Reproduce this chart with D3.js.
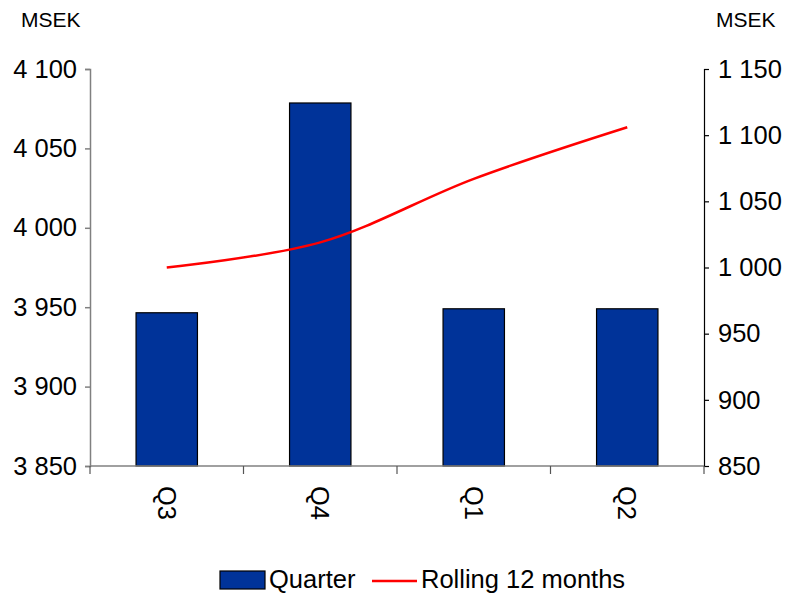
<!DOCTYPE html>
<html>
<head>
<meta charset="utf-8">
<script src="https://cdn.jsdelivr.net/npm/d3@7"></script>
<style>
  body { margin: 0; background: #fff; }
  svg text { font-family: "Liberation Sans", Arial, sans-serif; fill: #000; }
</style>
</head>
<body>
<div id="chart"></div>
<script>
// data
let quarters = ["Q3", "Q4", "Q1", "Q2"];
let quarterValues = [3946.5, 4078.6, 3949, 3949];
let rollingValues = [1000, 1019, 1067, 1106];
let leftTicks = [3850, 3900, 3950, 4000, 4050, 4100];
let rightTicks = [850, 900, 950, 1000, 1050, 1100, 1150];
let legendLabels = ["Quarter", "Rolling 12 months"];

let width = 791,
  height = 595,
  plotLeft = 90,
  plotRight = 704,
  plotTop = 69,
  plotBottom = 466;

let fmt = (d) => d3.format(",")(d).replace(/,/g, " ");

let svg = d3
  .select("#chart")
  .append("svg")
  .attr("width", width)
  .attr("height", height);

let xScale = d3
  .scaleBand()
  .domain(quarters)
  .range([plotLeft, plotRight])
  .paddingInner(0.6)
  .paddingOuter(0.3);

let yLeft = d3.scaleLinear().domain([3850, 4100]).range([plotBottom, plotTop]);
let yRight = d3.scaleLinear().domain([850, 1150]).range([plotBottom, plotTop]);

// bars
svg
  .selectAll("rect.bar")
  .data(quarters)
  .enter()
  .append("rect")
  .attr("class", "bar")
  .attr("x", (d) => xScale(d))
  .attr("y", (d, i) => yLeft(quarterValues[i]))
  .attr("width", xScale.bandwidth())
  .attr("height", (d, i) => plotBottom - yLeft(quarterValues[i]))
  .attr("fill", "#003399")
  .attr("stroke", "#000")
  .attr("stroke-width", 1.2);

// left axis
let leftAxis = d3
  .axisLeft(yLeft)
  .tickValues(leftTicks)
  .tickSize(5)
  .tickPadding(8)
  .tickFormat(fmt);
let gl = svg
  .append("g")
  .attr("transform", "translate(" + plotLeft + ",0)")
  .call(leftAxis);
gl.select(".domain").attr("stroke", "#808080").attr("stroke-width", 1.5);
gl.selectAll(".tick line").attr("stroke", "#808080").attr("stroke-width", 1.5);
gl.selectAll("text").style("font-size", "25.5px").attr("fill", "#000");

// right axis
let rightAxis = d3
  .axisRight(yRight)
  .tickValues(rightTicks)
  .tickSize(5)
  .tickPadding(9)
  .tickFormat(fmt);
let gr = svg
  .append("g")
  .attr("transform", "translate(" + plotRight + ",0)")
  .call(rightAxis);
gr.select(".domain").attr("stroke", "#000").attr("stroke-width", 1.2);
gr.selectAll(".tick line").attr("stroke", "#000").attr("stroke-width", 1.2);
gr.selectAll("text").style("font-size", "25.5px").attr("fill", "#000");

// bottom axis with ticks between categories
svg
  .append("line")
  .attr("x1", plotLeft)
  .attr("x2", plotRight)
  .attr("y1", plotBottom)
  .attr("y2", plotBottom)
  .attr("stroke", "#808080")
  .attr("stroke-width", 1.5);

let step = xScale.step();
let bounds = d3.range(quarters.length + 1).map((i) => plotLeft + i * step);
svg
  .selectAll("line.cat-tick")
  .data(bounds)
  .enter()
  .append("line")
  .attr("class", "cat-tick")
  .attr("x1", (d) => d)
  .attr("x2", (d) => d)
  .attr("y1", plotBottom)
  .attr("y2", plotBottom + 8)
  .attr("stroke", "#555")
  .attr("stroke-width", 1.2);

svg
  .selectAll("text.cat")
  .data(quarters)
  .enter()
  .append("text")
  .attr("class", "cat")
  .attr(
    "transform",
    (d) =>
      "translate(" + (xScale(d) + xScale.bandwidth() / 2) + "," + (plotBottom + 20) + ") rotate(90)"
  )
  .attr("dy", "0.35em")
  .style("font-size", "25.5px")
  .text((d) => d);

// rolling line
let line = d3
  .line()
  .x((d, i) => xScale(quarters[i]) + xScale.bandwidth() / 2)
  .y((d) => yRight(d))
  .curve(d3.curveCatmullRom.alpha(0.5));

svg
  .append("path")
  .datum(rollingValues)
  .attr("d", line)
  .attr("fill", "none")
  .attr("stroke", "#ff0000")
  .attr("stroke-width", 2.5);

// unit labels
svg
  .append("text")
  .attr("x", 21)
  .attr("y", 27)
  .style("font-size", "21px")
  .text("MSEK");
svg
  .append("text")
  .attr("x", 716)
  .attr("y", 27)
  .style("font-size", "21px")
  .text("MSEK");

// legend
let legend = svg.append("g").attr("class", "legend");
legend
  .append("rect")
  .attr("x", 220)
  .attr("y", 571)
  .attr("width", 45)
  .attr("height", 18)
  .attr("fill", "#003399")
  .attr("stroke", "#000")
  .attr("stroke-width", 1.2);
legend
  .append("text")
  .attr("x", 269)
  .attr("y", 588)
  .style("font-size", "25.5px")
  .text(legendLabels[0]);
legend
  .append("line")
  .attr("x1", 372)
  .attr("x2", 417)
  .attr("y1", 581)
  .attr("y2", 581)
  .attr("stroke", "#ff0000")
  .attr("stroke-width", 2.5);
legend
  .append("text")
  .attr("x", 421)
  .attr("y", 588)
  .style("font-size", "25.5px")
  .text(legendLabels[1]);
</script>
</body>
</html>
